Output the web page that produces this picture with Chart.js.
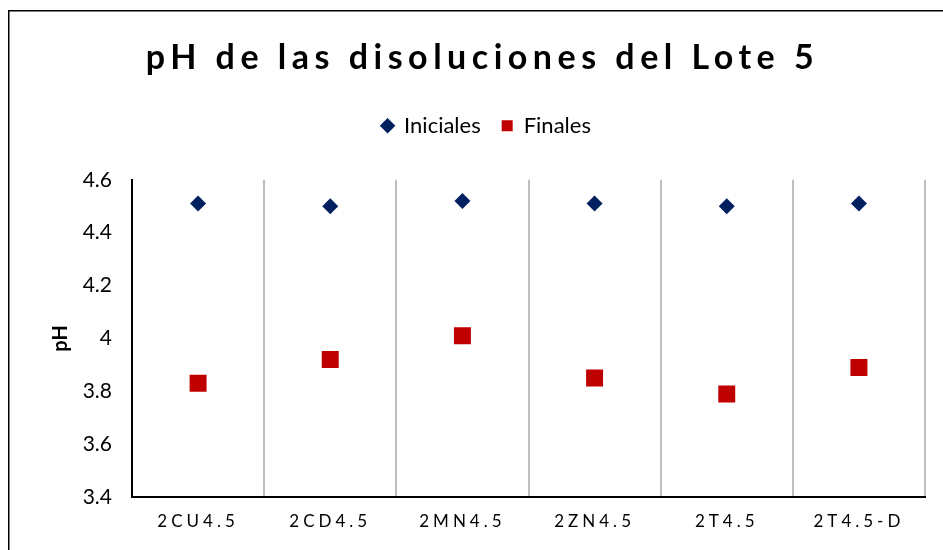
<!DOCTYPE html>
<html lang="es">
<head>
<meta charset="utf-8">
<title>pH de las disoluciones del Lote 5</title>
<script src="https://cdn.jsdelivr.net/npm/chart.js@4/dist/chart.umd.min.js"></script>
<style>
  html, body { margin: 0; padding: 0; background: #fff; }
  #wrap { position: relative; width: 943px; height: 550px; }
</style>
</head>
<body>
<div id="wrap"><canvas id="phChart" width="943" height="550"></canvas></div>
<script>
// ---- Datos: pH inicial y final por disolución ----
const muestras = ['2CU4.5', '2CD4.5', '2MN4.5', '2ZN4.5', '2T4.5', '2T4.5-D'];
const phIniciales = [4.51, 4.50, 4.52, 4.51, 4.50, 4.51];
const phFinales = [3.83, 3.92, 4.01, 3.85, 3.79, 3.89];
const ejeY = { min: 3.4, max: 4.6, paso: 0.2 };

// Envuelve el dibujo de un bloque: espaciado entre letras y desplazamiento horizontal
function ajustarTexto(obj, metodo, espacio, dx) {
    if (!obj || obj['_aj_' + metodo]) return;
    const original = obj[metodo];
    obj[metodo] = function (...args) {
        const ctx = this.ctx || this.chart.ctx;
        ctx.save();
        ctx.translate(dx, 0);
        ctx.letterSpacing = espacio;
        const r = original.apply(this, args);
        ctx.letterSpacing = '0px';
        ctx.restore();
        return r;
    };
    obj['_aj_' + metodo] = true;
}

// ---- Plugin: marco exterior, hueco bajo la leyenda y textos ----
const marcoPlugin = {
    id: 'marco',
    afterInit(chart) {
        const leyenda = chart.legend;
        if (leyenda && !leyenda._hueco) {
            const fit = leyenda.fit;
            leyenda.fit = function () {
                fit.call(this);
                this.height += 33;
            };
            leyenda._hueco = true;
        }
    },
    beforeDraw(chart) {
        const ctx = chart.ctx;
        ctx.save();
        ctx.fillStyle = '#fff';
        ctx.fillRect(0, 0, chart.width, chart.height);
        ctx.strokeStyle = '#000';
        ctx.lineWidth = 1.5;
        ctx.beginPath();
        ctx.moveTo(8.75, chart.height);
        ctx.lineTo(8.75, 10.75);
        ctx.lineTo(chart.width, 10.75);
        ctx.stroke();
        ctx.restore();
        ajustarTexto(chart.titleBlock, 'draw', '5.5px', 20);
        ajustarTexto(chart.legend, 'draw', '0px', 24);
        ajustarTexto(chart.scales.x, 'drawLabels', '4px', 0);
    }
};

const ctx = document.getElementById('phChart');
new Chart(ctx.getContext('2d'), {
    type: 'line',
    data: {
        labels: muestras,
        datasets: [
            {
                label: 'Iniciales',
                data: phIniciales,
                showLine: false,
                pointStyle: 'rectRot',
                pointRadius: 8,
                pointHoverRadius: 8,
                backgroundColor: '#002060',
                borderColor: '#002060',
                borderWidth: 0
            },
            {
                label: 'Finales',
                data: phFinales,
                showLine: false,
                pointStyle: 'rect',
                pointRadius: 12,
                pointHoverRadius: 12,
                backgroundColor: '#C00000',
                borderColor: '#C00000',
                borderWidth: 0
            }
        ]
    },
    options: {
        responsive: false,
        animation: false,
        layout: { padding: { top: 10, right: 18, left: 0, bottom: 0 } },
        plugins: {
            title: {
                display: true,
                text: 'pH de las disoluciones del Lote 5',
                color: '#000',
                font: { family: 'Lato', size: 34, weight: 'bold', lineHeight: 1.2 },
                padding: { top: 28, bottom: 15 }
            },
            legend: {
                display: true,
                position: 'top',
                labels: {
                    usePointStyle: true,
                    boxHeight: 11,
                    boxWidth: 11,
                    padding: 21,
                    color: '#000',
                    font: { family: 'Lato', size: 22 }
                }
            },
            tooltip: { enabled: false }
        },
        scales: {
            x: {
                offset: true,
                grid: { display: true, offset: true, color: '#bfbfbf', lineWidth: 2, drawTicks: false },
                border: { display: true, color: '#000', width: 2 },
                ticks: {
                    color: '#000',
                    padding: 14,
                    font: { family: 'Lato', size: 17 }
                },
                afterFit(scale) { scale.height = 53; }
            },
            y: {
                min: ejeY.min,
                max: ejeY.max,
                grid: { display: false, drawTicks: false },
                border: { display: true, color: '#000', width: 2 },
                title: {
                    display: true,
                    text: 'pH',
                    color: '#000',
                    font: { family: 'Lato', size: 20, weight: 'bold' },
                    padding: { top: 49, bottom: 0 }
                },
                ticks: {
                    stepSize: ejeY.paso,
                    color: '#000',
                    padding: 20,
                    font: { family: 'Lato', size: 21 },
                    callback: v => String(Number(v.toFixed(1)))
                },
                afterFit(scale) { scale.width = 132; }
            }
        }
    },
    plugins: [marcoPlugin]
});
</script>
</body>
</html>
